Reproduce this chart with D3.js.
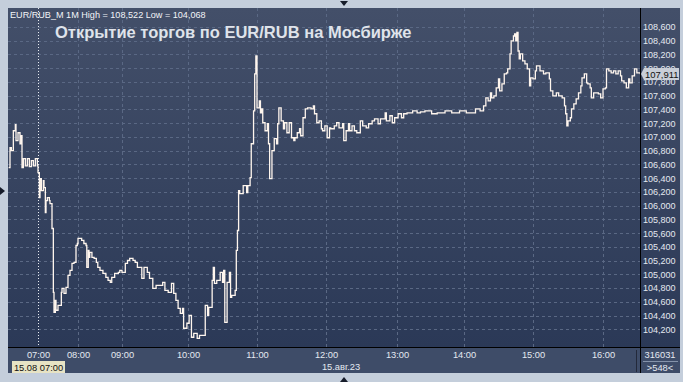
<!DOCTYPE html>
<html>
<head>
<meta charset="utf-8">
<script src="https://cdn.jsdelivr.net/npm/d3@7"></script>
<style>
  html, body { margin: 0; padding: 0; background: #c4cedb; }
  svg { display: block; }
</style>
</head>
<body>
<div id="chart"></div>
<script>
// minutes from 15.08 07:00, close price (1M bars, EUR/RUB_M)
const closes = [
  [-44,106553],[-42,106843],[-40,106800],[-37,107090],[-34,107177],[-33,106945],[-30,107061],[-27,106901],
  [-25,107017],[-24,106553],[-22,106683],[-19,106580],[-16,106683],[-13,106568],[-10,106654],[-7,106580],
  [-4,106683],[-1,106580],[0,106480],[2,106117],[3,106393],[5,106219],[8,106364],[9,106262],[11,105899],
  [12,106074],[14,106117],[17,106074],[18,106030],[21,105667],[23,104738],[24,104447],[26,104622],[27,104477],
  [30,104549],[33,104549],[35,104738],[36,104796],[39,104723],[42,104810],[45,104985],[48,105057],[51,105159],
  [54,105173],[57,105420],[59,105449],[60,105522],[63,105522],[65,105493],[68,105449],[71,105420],[72,105101],
  [74,105348],[75,105246],[76,105319],[79,105246],[82,105232],[85,105173],[87,105101],[90,105057],[94,105014],
  [98,104956],[101,104912],[104,104883],[106,104956],[110,105014],[115,105028],[117,105057],[120,105028],
  [123,105159],[125,105202],[127,105232],[130,105202],[132,105173],[134,105101],[136,105101],[138,104941],
  [140,105101],[143,105028],[145,104941],[148,104796],[151,104839],[155,104839],[157,104883],[159,104767],
  [162,104738],[165,104868],[167,104723],[169,104622],[171,104506],[173,104433],[175,104506],[176,104215],
  [179,104288],[181,104404],[183,104084],[185,104142],[188,104068],[190,104113],[193,104113],[195,104549],
  [197,104404],[198,104520],[201,104912],[202,105101],[203,104868],[205,104912],[208,105028],[210,104883],
  [211,105057],[212,104302],[214,104883],[216,105028],[217,104665],[218,104694],[221,104767],[222,105348],
  [223,105638],[224,106219],[225,106175],[228,106291],[231,106190],[232,106291],[234,106407],[235,106901],
  [237,107380],[238,107918],[239,108179],[240,107424],[242,107526],[243,107351],[244,107409],[245,107206],
  [247,107090],[249,107192],[250,106901],[251,106393],[253,106800],[255,106974],[257,106901],[258,107192],
  [259,107424],[261,107235],[263,107119],[264,107206],[266,107061],[268,107206],[270,106988],[272,106945],
  [273,106988],[275,107061],[277,107119],[278,107017],[280,107279],[282,107409],[284,107424],[287,107409],
  [289,107453],[290,107337],[292,107206],[294,107235],[296,107119],[297,107090],[299,107162],[301,106988],
  [303,107133],[304,107119],[307,107162],[309,107206],[311,107133],[314,107192],[315,106945],[317,107090],
  [319,107192],[320,107090],[322,107162],[324,107090],[326,107061],[329,107235],[331,107162],[334,107133],
  [336,107192],[339,107235],[341,107264],[344,107192],[346,107264],[350,107351],[351,107235],[354,107308],
  [356,107206],[358,107279],[361,107337],[364,107279],[366,107337],[369,107351],[372,107351],[374,107380],
  [378,107351],[381,107366],[385,107380],[391,107337],[396,107351],[403,107380],[409,107351],[416,107380],
  [422,107351],[425,107351],[430,107409],[434,107380],[437,107453],[439,107569],[441,107526],[443,107642],
  [444,107569],[446,107598],[448,107714],[450,107845],[451,107671],[453,107772],[455,107918],[457,107932],
  [458,107990],[460,108208],[461,108397],[463,108469],[464,108498],[465,108397],[466,108522],[467,108251],
  [468,108135],[469,108208],[471,108106],[473,108063],[475,107990],[477,107743],[478,107859],[480,107845],
  [482,107961],[483,108034],[486,107961],[489,107918],[491,107932],[494,107845],[495,107671],[497,107598],
  [500,107642],[502,107598],[505,107569],[507,107453],[508,107337],[509,107162],[510,107235],[512,107279],
  [513,107409],[515,107482],[517,107555],[519,107642],[521,107743],[522,107859],[524,107918],[526,107787],
  [527,107772],[529,107714],[530,107569],[532,107642],[534,107642],[536,107627],[538,107569],[540,107700],
  [542,107714],[543,107990],[545,107961],[547,107932],[549,107961],[551,107918],[553,107961],[555,107889],
  [556,107816],[558,107787],[560,107714],[562,107845],[563,107787],[565,107889],[567,107990],[569,107932],
  [570,107932],[572,107911]
];

const hourTicks = [0, 60, 120, 180, 240, 300, 360, 420, 480, 540];
const hourLabels = ["07:00", "08:00", "09:00", "10:00", "11:00", "12:00", "13:00", "14:00", "15:00", "16:00"];
const priceTicks = [104200, 104400, 104600, 104800, 105000, 105200, 105400, 105600, 105800, 106000, 106200,
  106400, 106600, 106800, 107000, 107200, 107400, 107600, 107800, 108000, 108200, 108400, 108600];

const headerText = "EUR/RUB_M 1M High = 108,522 Low = 104,068";
const titleText = "Открытие торгов по EUR/RUB на Мосбирже";
const cursorLabel = "15.08 07:00";
const dateLabel = "15.авг.23";
const volumeLabel = "316031";
const barsLabel = ">548<";
const lastPrice = 107911;

const width = 683, height = 382;
const plot = {left: 8, top: 8, right: 640, bottom: 347};
const fmt = d3.format(",d");

const svg = d3.select('#chart').append('svg')
    .attr('width', width)
    .attr('height', height)
    .style('font-family', '"Liberation Sans", Arial, sans-serif');

const defs = svg.append('defs');
const grad = defs.append('linearGradient')
    .attr('id', 'bg').attr('x1', 0).attr('y1', 0).attr('x2', 0).attr('y2', 1);
grad.append('stop').attr('offset', '0%').attr('stop-color', '#434f69');
grad.append('stop').attr('offset', '100%').attr('stop-color', '#2b3957');

// frame
svg.append('rect').attr('width', width).attr('height', height).attr('fill', '#c4cedb');

// plot + right price panel
svg.append('rect')
    .attr('x', plot.left).attr('y', plot.top)
    .attr('width', 680 - plot.left).attr('height', plot.bottom - plot.top)
    .attr('fill', 'url(#bg)');

// bottom time panel
svg.append('rect')
    .attr('x', plot.left).attr('y', plot.bottom)
    .attr('width', 680 - plot.left).attr('height', 373 - plot.bottom)
    .attr('fill', '#3e4c68');

// scales
const x = d3.scaleLinear()
    .domain(hourTicks)
    .range([38, 78, 122, 188, 257, 326, 397, 464, 533, 603]);

const y = d3.scaleLinear()
    .domain([104200, 108600])
    .range([329.3, 27]);

// grid
const grid = svg.append('g')
    .attr('stroke', '#5a6884')
    .attr('stroke-dasharray', '3,3')
    .attr('stroke-width', 1);

grid.selectAll('.hg')
  .data(priceTicks)
  .join('line')
    .attr('x1', plot.left).attr('x2', plot.right)
    .attr('y1', d => Math.round(y(d)) + 0.5)
    .attr('y2', d => Math.round(y(d)) + 0.5);

grid.selectAll('.vg')
  .data(hourTicks.slice(1))
  .join('line')
    .attr('y1', plot.top).attr('y2', plot.bottom)
    .attr('x1', d => Math.round(x(d)) + 0.5)
    .attr('x2', d => Math.round(x(d)) + 0.5);

// cursor at 07:00
svg.append('line')
    .attr('x1', Math.round(x(0)) + 0.5).attr('x2', Math.round(x(0)) + 0.5)
    .attr('y1', plot.top).attr('y2', plot.bottom)
    .attr('stroke', '#e8ecf2')
    .attr('stroke-dasharray', '1,2');

// price line
const line = d3.line()
    .x(d => x(d[0]))
    .y(d => y(d[1]))
    .curve(d3.curveStepAfter);

svg.append('path')
    .datum(closes)
    .attr('fill', 'none')
    .attr('stroke', '#fff6ee')
    .attr('stroke-width', 1.3)
    .attr('d', line);

// panel borders
svg.append('line')
    .attr('x1', plot.right + 0.5).attr('x2', plot.right + 0.5)
    .attr('y1', plot.top).attr('y2', 373)
    .attr('stroke', '#000');
svg.append('line')
    .attr('x1', plot.left).attr('x2', 680)
    .attr('y1', plot.bottom + 0.5).attr('y2', plot.bottom + 0.5)
    .attr('stroke', '#000');

// right price axis
svg.append('g')
    .attr('transform', `translate(${plot.right},0)`)
    .call(d3.axisRight(y).tickValues(priceTicks).tickSize(0).tickPadding(3)
      .tickFormat(d => fmt(d)))
    .call(g => g.select('.domain').remove())
    .call(g => g.selectAll('text')
      .attr('fill', '#e4e9f1')
      .attr('font-size', 9)
      .attr('font-family', '"Liberation Sans", Arial, sans-serif'));

// last price marker
const ly = Math.round(y(lastPrice));
svg.append('path')
    .attr('d', `M${plot.right + 1},${ly} L${plot.right + 4},${ly - 6} L679,${ly - 6} L679,${ly + 6} L${plot.right + 4},${ly + 6} Z`)
    .attr('fill', '#c9ced7');
svg.append('text')
    .attr('x', plot.right + 5).attr('y', ly + 3.5)
    .attr('font-size', 9.5)
    .attr('fill', '#111')
    .text(fmt(lastPrice));

// bottom time axis
svg.append('g')
    .attr('transform', `translate(0,${plot.bottom})`)
    .call(d3.axisBottom(x).tickValues(hourTicks).tickSize(0).tickPadding(4)
      .tickFormat((d, i) => hourLabels[i]))
    .call(g => g.select('.domain').remove())
    .call(g => g.selectAll('text')
      .attr('fill', '#e4e9f1')
      .attr('font-size', 9.3)
      .attr('font-family', '"Liberation Sans", Arial, sans-serif'));

// cursor time box
svg.append('rect')
    .attr('x', 12).attr('y', 361)
    .attr('width', 53).attr('height', 12)
    .attr('fill', '#e7e3c4');
svg.append('text')
    .attr('x', 38.5).attr('y', 370.5)
    .attr('text-anchor', 'middle')
    .attr('font-size', 9.3)
    .attr('fill', '#111')
    .text(cursorLabel);

svg.append('text')
    .attr('x', 341).attr('y', 369.5)
    .attr('text-anchor', 'middle')
    .attr('font-size', 9.3)
    .attr('fill', '#e4e9f1')
    .text(dateLabel);

// bottom-right info cell
svg.append('line')
    .attr('x1', 636.5).attr('x2', 636.5).attr('y1', 350).attr('y2', 372)
    .attr('stroke', '#23293a');
svg.append('line')
    .attr('x1', 643).attr('x2', 678).attr('y1', 361.5).attr('y2', 361.5)
    .attr('stroke', '#8593aa');
svg.append('text')
    .attr('x', 660).attr('y', 358)
    .attr('text-anchor', 'middle')
    .attr('font-size', 9.3)
    .attr('fill', '#e4e9f1')
    .text(volumeLabel);
svg.append('text')
    .attr('x', 660).attr('y', 370.5)
    .attr('text-anchor', 'middle')
    .attr('font-size', 9.3)
    .attr('fill', '#e4e9f1')
    .text(barsLabel);

// header + title
svg.append('text')
    .attr('x', 10).attr('y', 18)
    .attr('font-size', 9.1)
    .attr('fill', '#f2f4f8')
    .text(headerText);

svg.append('text')
    .attr('x', 55).attr('y', 37.5)
    .attr('font-size', 16.5)
    .attr('font-weight', 'bold')
    .attr('fill', '#dfe3ea')
    .text(titleText);

// scroll markers on the frame
const tri = svg.append('g').attr('fill', '#161c2a');
tri.append('path').attr('d', 'M340,1 L348,1 L344,6 Z');
tri.append('path').attr('d', 'M340,382 L348,382 L344,377 Z');
tri.append('path').attr('d', 'M0,187 L0,195 L5,191 Z');
</script>
</body>
</html>
